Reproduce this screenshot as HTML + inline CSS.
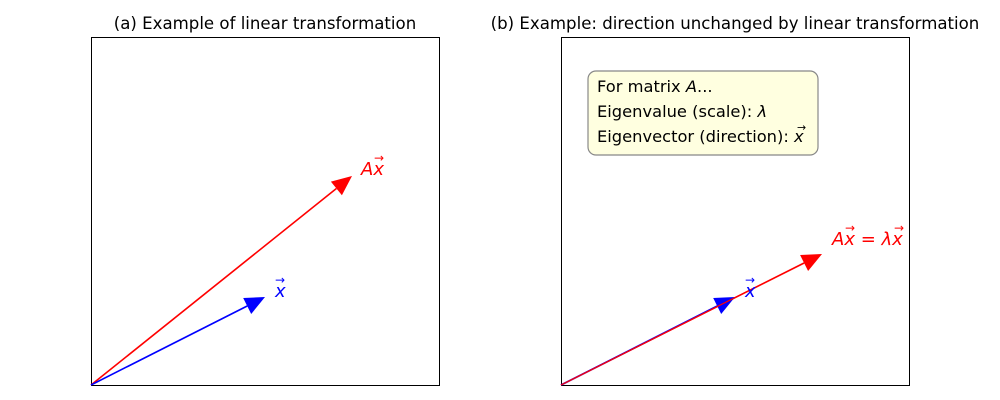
<!DOCTYPE html>
<html><head><style>body{margin:0;background:#fff}svg{display:block}</style></head><body>
<svg width="1000" height="400" xmlns="http://www.w3.org/2000/svg" font-family="DejaVu Sans, Liberation Sans, sans-serif">
<rect width="1000" height="400" fill="#fff"/>
<text x="265" y="29" font-size="16.6" text-anchor="middle">(a) Example of linear transformation</text>
<text x="735" y="29" font-size="16.6" text-anchor="middle">(b) Example: direction unchanged by linear transformation</text>
<rect x="91.5" y="37.5" width="348" height="348" fill="none" stroke="#000" stroke-width="1"/>
<rect x="561.5" y="37.5" width="348" height="348" fill="none" stroke="#000" stroke-width="1"/>
<!-- left -->
<line x1="91" y1="385" x2="336.4" y2="188.5" stroke="red" stroke-width="1.6"/>
<polygon points="352,176 341.9,195.3 330.9,181.6" fill="red"/>
<line x1="91" y1="385" x2="247.2" y2="306" stroke="blue" stroke-width="1.6"/>
<polygon points="265,297 251.2,314 243.2,298" fill="blue"/>
<text x="361" y="175" font-size="18" fill="red" font-style="italic">Ax</text>
<text x="374" y="162" font-size="12" fill="red">→</text>
<text x="275" y="297" font-size="18" fill="blue" font-style="italic">x</text>
<text x="275" y="284" font-size="12" fill="blue">→</text>
<!-- right -->
<line x1="561" y1="385" x2="804.1" y2="263" stroke="red" stroke-width="1.6"/>
<polygon points="822,254 808.1,271 800.1,255" fill="red"/>
<line x1="561" y1="385" x2="717.2" y2="306" stroke="blue" stroke-width="1.6"/>
<polygon points="735,297 721.2,314 713.2,298" fill="blue"/>
<line x1="561" y1="385" x2="804" y2="263" stroke="red" stroke-width="1.2"/>
<text x="745" y="297" font-size="18" fill="blue" font-style="italic">x</text>
<text x="745" y="284" font-size="12" fill="blue">→</text>
<text x="832" y="245" font-size="18" fill="red" font-style="italic">Ax <tspan font-style="normal">=</tspan> λx</text>
<text x="845" y="232" font-size="12" fill="red">→</text>
<text x="894" y="232" font-size="12" fill="red">→</text>
<rect x="588" y="71" width="230" height="84" rx="8" fill="#ffffe0" stroke="#888" stroke-width="1.2"/>
<text x="597" y="92" font-size="16.3">For matrix <tspan font-style="italic">A</tspan>...</text>
<text x="597" y="117" font-size="16.3">Eigenvalue (scale): <tspan font-style="italic">λ</tspan></text>
<text x="597" y="142" font-size="16.3">Eigenvector (direction): <tspan font-style="italic">x</tspan></text>
<text x="797" y="131" font-size="11">→</text>
</svg>
</body></html>
